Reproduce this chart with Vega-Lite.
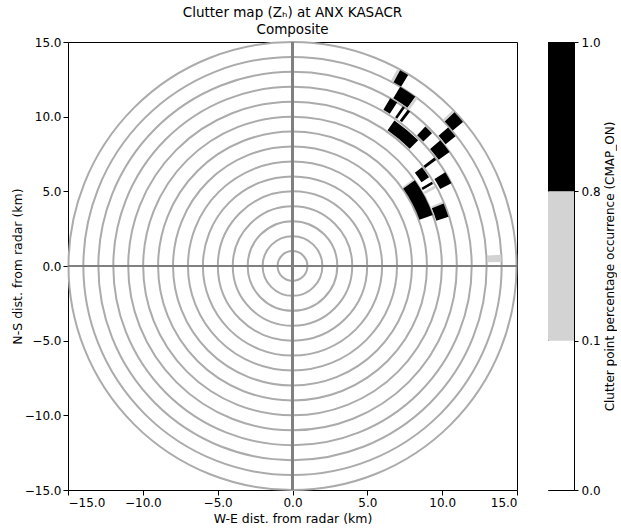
{
  "$schema": "https://vega.github.io/schema/vega-lite/v6.json",
  "background": "white",
  "padding": {"left": 10, "top": 5, "right": 1, "bottom": 5},
  "config": {
    "font": "DejaVu Sans",
    "view": {"stroke": "black", "strokeWidth": 1},
    "axis": {
      "grid": false,
      "domain": false,
      "tickColor": "black",
      "tickSize": 5,
      "labelColor": "black",
      "labelFontSize": 12,
      "labelPadding": 2,
      "titleColor": "black",
      "titleFontSize": 12.5,
      "titleFontWeight": "normal"
    }
  },
  "datasets": {
    "rings": [
      {"r": 1}, {"r": 2}, {"r": 3}, {"r": 4}, {"r": 5}, {"r": 6}, {"r": 7}, {"r": 8},
      {"r": 9}, {"r": 10}, {"r": 11}, {"r": 12}, {"r": 13}, {"r": 14}, {"r": 15}
    ],
    "clutter": [
      {"r0": 14.05, "r1": 14.95, "a0": 28.0, "a1": 28.8, "pct": 0.5},
      {"r0": 14.05, "r1": 14.95, "a0": 28.8, "a1": 31.2, "pct": 0.9},
      {"r0": 13.1, "r1": 14.0, "a0": 31.0, "a1": 36.0, "pct": 0.9},
      {"r0": 13.1, "r1": 14.0, "a0": 36.0, "a1": 36.8, "pct": 0.5},
      {"r0": 12.1, "r1": 13.0, "a0": 30.2, "a1": 32.6, "pct": 0.9},
      {"r0": 12.1, "r1": 13.0, "a0": 34.6, "a1": 35.4, "pct": 0.9},
      {"r0": 12.1, "r1": 13.0, "a0": 36.4, "a1": 37.3, "pct": 0.9},
      {"r0": 11.1, "r1": 11.9, "a0": 35.0, "a1": 45.0, "pct": 0.9},
      {"r0": 12.1, "r1": 12.9, "a0": 43.6, "a1": 46.4, "pct": 0.9},
      {"r0": 14.05, "r1": 14.95, "a0": 45.8, "a1": 46.5, "pct": 0.5},
      {"r0": 14.05, "r1": 14.95, "a0": 46.5, "a1": 49.8, "pct": 0.9},
      {"r0": 13.1, "r1": 13.95, "a0": 48.3, "a1": 51.5, "pct": 0.9},
      {"r0": 12.1, "r1": 13.0, "a0": 49.6, "a1": 54.0, "pct": 0.9},
      {"r0": 11.05, "r1": 11.95, "a0": 52.6, "a1": 53.6, "pct": 0.9},
      {"r0": 10.3, "r1": 10.9, "a0": 52.7, "a1": 57.0, "pct": 0.9},
      {"r0": 10.1, "r1": 10.9, "a0": 58.8, "a1": 59.7, "pct": 0.9},
      {"r0": 10.1, "r1": 10.9, "a0": 60.5, "a1": 61.5, "pct": 0.5},
      {"r0": 11.15, "r1": 12.0, "a0": 58.5, "a1": 62.5, "pct": 0.9},
      {"r0": 9.05, "r1": 10.0, "a0": 54.3, "a1": 55.0, "pct": 0.5},
      {"r0": 9.05, "r1": 10.0, "a0": 55.0, "a1": 70.0, "pct": 0.9},
      {"r0": 10.1, "r1": 10.95, "a0": 66.8, "a1": 67.5, "pct": 0.5},
      {"r0": 10.1, "r1": 10.95, "a0": 67.5, "a1": 72.5, "pct": 0.9},
      {"r0": 13.05, "r1": 14.0, "a0": 86.9, "a1": 88.9, "pct": 0.5}
    ],
    "colorbar": [
      {"lo": 0.0, "hi": 0.1},
      {"lo": 0.1, "hi": 0.8},
      {"lo": 0.8, "hi": 1.0}
    ]
  },
  "spacing": 26,
  "hconcat": [
    {
      "width": 449,
      "height": 448,
      "title": {
        "text": "Clutter map (Zₕ) at ANX KASACR",
        "subtitle": "Composite",
        "fontSize": 13.5,
        "subtitleFontSize": 13.5,
        "fontWeight": "normal",
        "color": "black",
        "subtitleColor": "black",
        "anchor": "middle",
        "offset": 0,
        "subtitlePadding": 3
      },
      "layer": [
        {
          "data": {"name": "rings"},
          "mark": {"type": "arc", "theta": 0, "theta2": 6.2832, "filled": false, "stroke": "#ababab", "strokeWidth": 2},
          "encoding": {
            "x": {"datum": 0, "type": "quantitative"},
            "y": {"datum": 0, "type": "quantitative"},
            "radius": {"field": "r", "type": "quantitative", "stack": null, "scale": {"type": "linear", "domain": [0, 15], "zero": true, "nice": false, "range": [0, 224]}}
          }
        },
        {
          "data": {"name": "rings"},
          "mark": {"type": "rule", "color": "#808080", "strokeWidth": 1.5},
          "encoding": {
            "x": {
              "datum": 0, "type": "quantitative",
              "scale": {"domain": [-15, 15], "nice": false, "zero": false},
              "axis": {"values": [-15, -10, -5, 0, 5, 10, 15], "format": ".1f", "title": "W-E dist. from radar (km)", "titlePadding": 4}
            }
          }
        },
        {
          "data": {"name": "rings"},
          "mark": {"type": "rule", "color": "#808080", "strokeWidth": 1.5},
          "encoding": {
            "y": {
              "datum": 0, "type": "quantitative",
              "scale": {"domain": [-15, 15], "nice": false, "zero": false},
              "axis": {"values": [-15, -10, -5, 0, 5, 10, 15], "format": ".1f", "title": "N-S dist. from radar (km)", "titlePadding": 0}
            }
          }
        },
        {
          "data": {"name": "clutter"},
          "mark": {"type": "arc"},
          "encoding": {
            "x": {"datum": 0, "type": "quantitative"},
            "y": {"datum": 0, "type": "quantitative"},
            "theta": {"field": "a0", "type": "quantitative", "stack": null, "scale": {"type": "linear", "domain": [0, 360], "range": [0, 6.283185307]}},
            "theta2": {"field": "a1"},
            "radius": {"field": "r1", "type": "quantitative", "stack": null},
            "radius2": {"field": "r0"},
            "fill": {
              "field": "pct", "type": "quantitative",
              "scale": {"type": "threshold", "domain": [0.1, 0.8], "range": ["#ffffff", "#d3d3d3", "#000000"]},
              "legend": null
            }
          }
        }
      ]
    },
    {
      "width": 26,
      "height": 448,
      "data": {"name": "colorbar"},
      "mark": {"type": "rect"},
      "encoding": {
        "y": {
          "field": "lo", "type": "quantitative",
          "scale": {"type": "linear", "domain": [0, 0.1, 0.8, 1.0], "range": [448, 298.667, 149.333, 0], "nice": false, "zero": false},
          "axis": {"orient": "right", "values": [0, 0.1, 0.8, 1.0], "format": ".1f", "tickSize": 4, "labelPadding": 3, "title": "Clutter point percentage occurrence (CMAP_ON)", "titleFontSize": 12, "titleAngle": -90, "titleBaseline": "top", "titlePadding": 4}
        },
        "y2": {"field": "hi"},
        "fill": {
          "field": "lo", "type": "quantitative",
          "scale": {"type": "threshold", "domain": [0.1, 0.8], "range": ["#ffffff", "#d3d3d3", "#000000"]},
          "legend": null
        }
      }
    }
  ]
}
